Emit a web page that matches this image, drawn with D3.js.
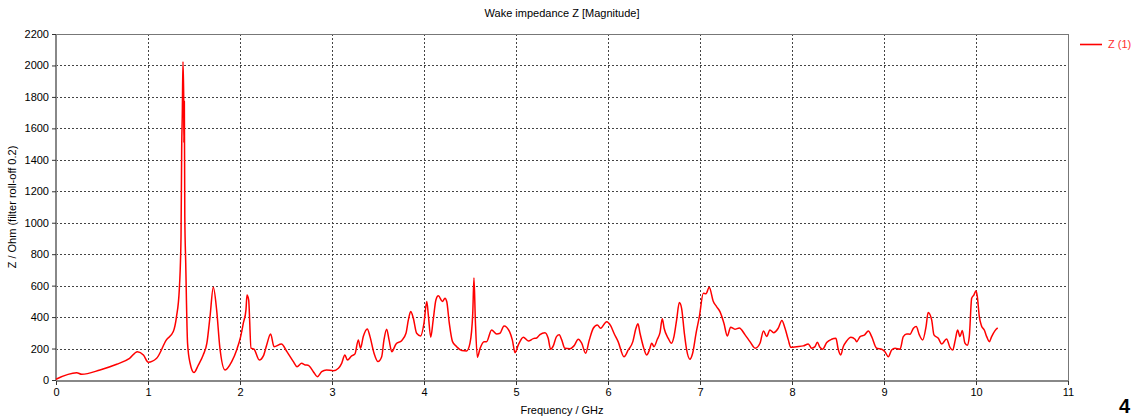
<!DOCTYPE html>
<html>
<head>
<meta charset="utf-8">
<script src="https://cdn.jsdelivr.net/npm/d3@7"></script>
<style>
  body { margin: 0; background: #fff; }
  svg text { font-family: "Liberation Sans", Arial, sans-serif; }
</style>
</head>
<body>
<svg id="my_container" width="1132" height="419"></svg>
<script>
// frequency in GHz, impedance magnitude in Ohm
var freq = [0, 0.225, 0.28, 0.478, 0.66, 0.8, 0.885, 0.95, 1.003, 1.094, 1.2, 1.275, 1.31, 1.34, 1.359, 1.366, 1.373, 1.38, 1.388, 1.39, 1.395, 1.4, 1.41, 1.43, 1.457, 1.5, 1.547, 1.6, 1.64, 1.674, 1.71, 1.746, 1.78, 1.837, 1.91, 1.964, 2.007, 2.036, 2.065, 2.076, 2.094, 2.12, 2.152, 2.21, 2.254, 2.29, 2.333, 2.37, 2.45, 2.51, 2.58, 2.62, 2.67, 2.707, 2.74, 2.797, 2.84, 2.888, 2.94, 3.014, 3.07, 3.105, 3.14, 3.167, 3.214, 3.25, 3.286, 3.31, 3.34, 3.384, 3.413, 3.457, 3.5, 3.54, 3.565, 3.594, 3.62, 3.65, 3.696, 3.757, 3.804, 3.83, 3.855, 3.884, 3.92, 3.964, 4.0, 4.03, 4.047, 4.073, 4.1, 4.13, 4.156, 4.2, 4.228, 4.247, 4.275, 4.31, 4.355, 4.41, 4.464, 4.5, 4.53, 4.543, 4.558, 4.58, 4.61, 4.652, 4.68, 4.735, 4.79, 4.826, 4.87, 4.93, 4.96, 4.99, 5.025, 5.08, 5.134, 5.188, 5.225, 5.26, 5.315, 5.35, 5.376, 5.405, 5.44, 5.47, 5.497, 5.53, 5.587, 5.63, 5.677, 5.714, 5.757, 5.797, 5.84, 5.884, 5.92, 5.985, 6.03, 6.065, 6.11, 6.174, 6.22, 6.27, 6.304, 6.326, 6.348, 6.384, 6.42, 6.45, 6.475, 6.5, 6.536, 6.565, 6.59, 6.61, 6.655, 6.69, 6.717, 6.746, 6.775, 6.8, 6.83, 6.855, 6.89, 6.92, 6.957, 6.993, 7.036, 7.065, 7.1, 7.145, 7.18, 7.217, 7.26, 7.297, 7.333, 7.38, 7.427, 7.49, 7.543, 7.6, 7.652, 7.69, 7.725, 7.76, 7.8, 7.85, 7.89, 7.924, 7.96, 7.986, 8.05, 8.123, 8.177, 8.214, 8.25, 8.275, 8.304, 8.333, 8.377, 8.43, 8.478, 8.5, 8.53, 8.557, 8.594, 8.64, 8.685, 8.703, 8.74, 8.79, 8.83, 8.866, 8.92, 8.975, 9.01, 9.047, 9.083, 9.12, 9.174, 9.21, 9.247, 9.283, 9.32, 9.35, 9.384, 9.42, 9.457, 9.48, 9.518, 9.543, 9.59, 9.627, 9.68, 9.717, 9.746, 9.775, 9.8, 9.826, 9.85, 9.88, 9.905, 9.927, 9.953, 9.978, 10.0, 10.014, 10.036, 10.06, 10.09, 10.116, 10.145, 10.17, 10.207, 10.236];
var imp = [5, 46, 36, 64, 100, 138, 180, 159, 113, 138, 255, 308, 403, 573, 913, 1465, 1699, 2024, 1805, 1508, 1773, 1040, 745, 234, 108, 47, 95, 159, 234, 403, 590, 446, 212, 64, 117, 191, 276, 361, 446, 541, 510, 202, 196, 127, 153, 223, 293, 212, 229, 180, 117, 85, 106, 96, 94, 53, 21, 53, 64, 59, 75, 106, 159, 127, 153, 166, 255, 202, 276, 325, 276, 170, 117, 148, 255, 323, 255, 180, 229, 250, 297, 382, 435, 393, 297, 280, 361, 499, 414, 272, 382, 510, 535, 499, 520, 499, 361, 244, 212, 187, 185, 234, 425, 648, 382, 145, 202, 244, 244, 318, 293, 297, 344, 308, 255, 174, 223, 272, 248, 263, 267, 289, 301, 265, 196, 217, 276, 287, 255, 202, 199, 217, 259, 234, 170, 255, 329, 350, 329, 371, 344, 297, 244, 148, 191, 244, 329, 357, 297, 212, 159, 191, 234, 212, 259, 301, 390, 329, 265, 234, 276, 382, 492, 456, 297, 191, 132, 170, 297, 403, 552, 548, 590, 499, 467, 435, 361, 280, 336, 323, 331, 287, 244, 202, 234, 312, 276, 318, 301, 329, 378, 329, 255, 208, 212, 217, 229, 202, 212, 240, 208, 196, 238, 259, 265, 202, 159, 212, 248, 272, 259, 244, 276, 287, 312, 276, 202, 196, 180, 148, 191, 202, 196, 276, 293, 291, 329, 340, 287, 255, 340, 429, 382, 287, 265, 229, 261, 208, 191, 255, 318, 276, 314, 234, 221, 276, 520, 541, 567, 531, 403, 344, 318, 276, 244, 276, 314, 331];
var xTicks = [0, 1, 2, 3, 4, 5, 6, 7, 8, 9, 10, 11];
var yTicks = [0, 200, 400, 600, 800, 1000, 1200, 1400, 1600, 1800, 2000, 2200];

var svg = d3.select("#my_container");
var plotLeft = 56, plotRight = 1068, plotTop = 34, plotBottom = 380;

var xScale = d3.scaleLinear().domain([0, 11]).range([plotLeft, plotRight]);
var yScale = d3.scaleLinear().domain([0, 2200]).range([plotBottom, plotTop]);

// grid
svg.append("g").selectAll("line")
    .data(yTicks.slice(1, -1))
    .enter()
    .append("line")
    .attr("x1", plotLeft).attr("x2", plotRight)
    .attr("y1", function(d){ return Math.round(yScale(d)) + 0.5; })
    .attr("y2", function(d){ return Math.round(yScale(d)) + 0.5; })
    .attr("stroke", "#444")
    .attr("stroke-dasharray", "2,2");

svg.append("g").selectAll("line")
    .data(xTicks.slice(1, -1))
    .enter()
    .append("line")
    .attr("y1", plotTop).attr("y2", plotBottom)
    .attr("x1", function(d){ return Math.round(xScale(d)) + 0.5; })
    .attr("x2", function(d){ return Math.round(xScale(d)) + 0.5; })
    .attr("stroke", "#444")
    .attr("stroke-dasharray", "2,2");

// frame
svg.append("rect")
    .attr("x", plotLeft + 0.5).attr("y", plotTop + 0.5)
    .attr("width", plotRight - plotLeft).attr("height", plotBottom - plotTop)
    .attr("fill", "none")
    .attr("stroke", "#777");
svg.append("line")
    .attr("x1", plotLeft).attr("x2", plotLeft).attr("y1", plotTop).attr("y2", plotBottom + 1)
    .attr("stroke", "#888").attr("stroke-width", 2);
svg.append("line")
    .attr("x1", plotLeft).attr("x2", plotRight + 1).attr("y1", plotBottom + 1).attr("y2", plotBottom + 1)
    .attr("stroke", "#888").attr("stroke-width", 2);

// axes
var xAxis = d3.axisBottom(xScale).tickValues(xTicks).tickFormat(d3.format("d")).tickSize(4).tickPadding(3);
var gx = svg.append("g").attr("transform", "translate(0," + (plotBottom + 1) + ")").call(xAxis);
var yAxis = d3.axisLeft(yScale).tickValues(yTicks).tickFormat(d3.format("d")).tickSize(4).tickPadding(3);
var gy = svg.append("g").attr("transform", "translate(" + plotLeft + ",0)").call(yAxis);
[gx, gy].forEach(function(g){
    g.select(".domain").remove();
    g.selectAll(".tick line").attr("stroke", "#333");
    g.selectAll("text")
        .attr("fill", "#000")
        .style("font-family", "'Liberation Sans', Arial, sans-serif")
        .style("font-size", "11px");
});

// curve
var line = d3.line()
    .curve(d3.curveMonotoneX)
    .x(function(d){ return xScale(d[0]); })
    .y(function(d){ return yScale(d[1]); });

svg.append("path")
    .datum(d3.zip(freq, imp))
    .attr("d", line)
    .attr("fill", "none")
    .attr("stroke", "#ff0000")
    .attr("stroke-width", 1.5)
    .attr("stroke-linejoin", "round");

// labels
svg.append("text")
    .attr("x", 562).attr("y", 17)
    .attr("text-anchor", "middle")
    .style("font-size", "11px")
    .text("Wake impedance Z [Magnitude]");

svg.append("text")
    .attr("x", 562).attr("y", 414)
    .attr("text-anchor", "middle")
    .style("font-size", "11px")
    .text("Frequency / GHz");

svg.append("text")
    .attr("transform", "translate(16,207) rotate(-90)")
    .attr("text-anchor", "middle")
    .style("font-size", "11px")
    .text("Z / Ohm (filter roll-off 0.2)");

// legend
svg.append("line")
    .attr("x1", 1080).attr("x2", 1102).attr("y1", 44.5).attr("y2", 44.5)
    .attr("stroke", "#ff0000").attr("stroke-width", 1.6);
svg.append("text")
    .attr("x", 1108).attr("y", 48)
    .attr("fill", "#ff3030")
    .style("font-size", "11px")
    .text("Z (1)");

// stray glyph in the corner
svg.append("text")
    .attr("x", 1119).attr("y", 413)
    .attr("fill", "#000")
    .style("font-size", "20px")
    .style("font-weight", "bold")
    .text("4");
</script>
</body>
</html>
